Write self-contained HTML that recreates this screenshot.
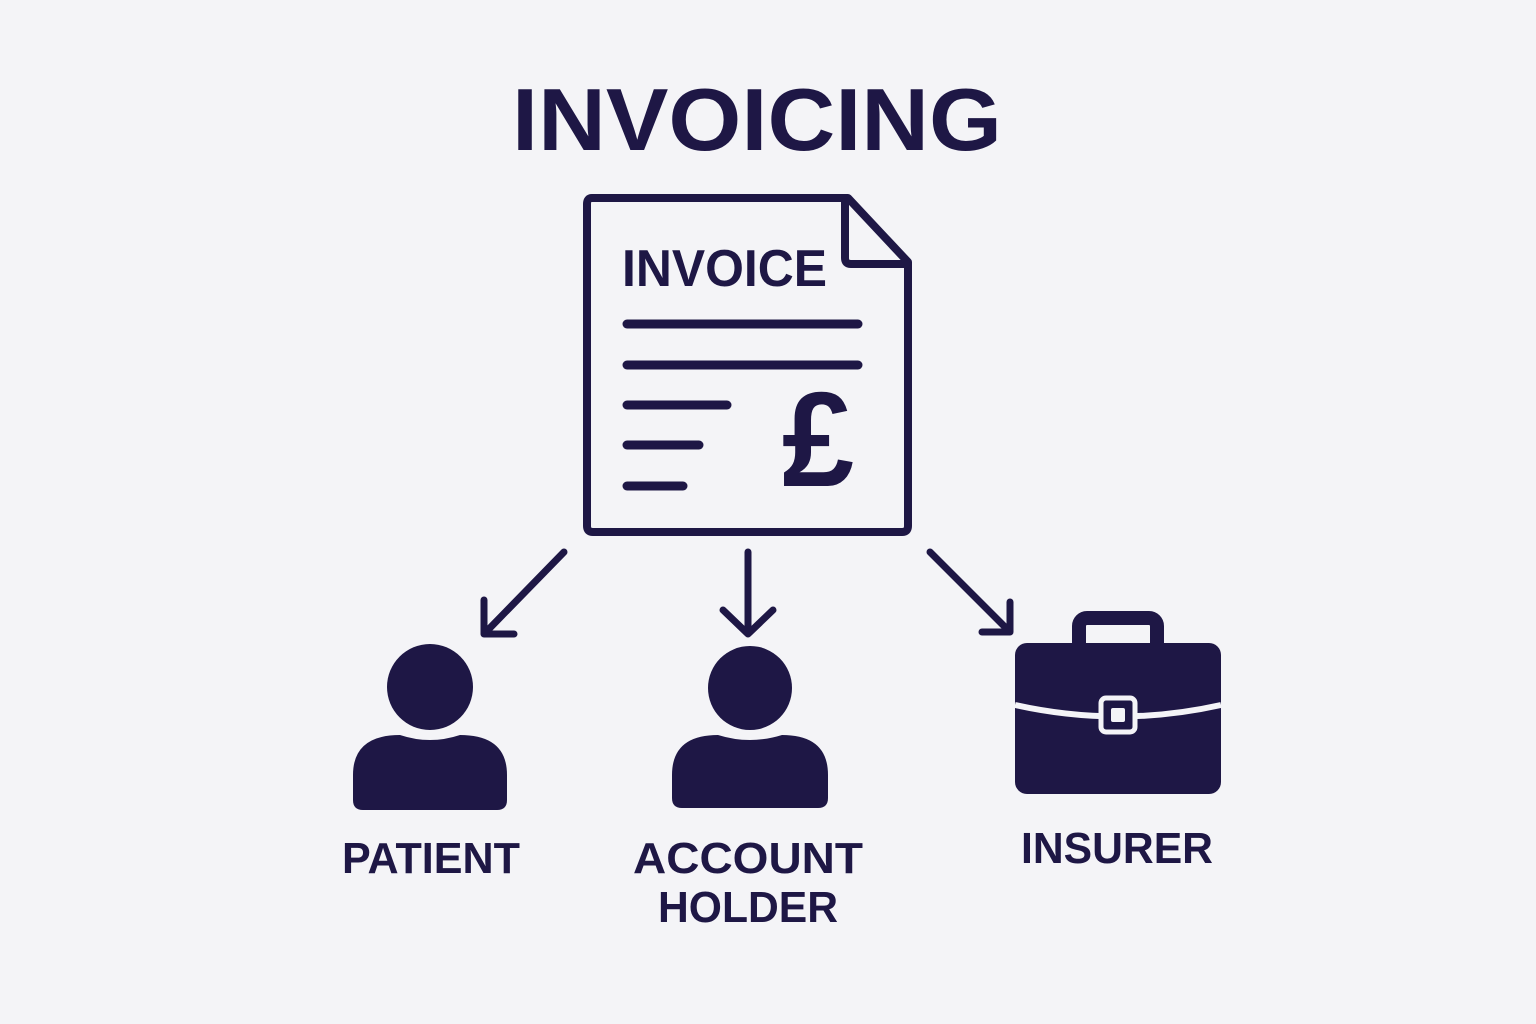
<!DOCTYPE html>
<html><head><meta charset="utf-8"><style>
html,body{margin:0;padding:0;background:#f4f4f7;}
svg{display:block;}
</style></head><body>
<svg width="1536" height="1024" viewBox="0 0 1536 1024" xmlns="http://www.w3.org/2000/svg">
<rect width="1536" height="1024" fill="#f4f4f7"/>
<g fill="#1e1745" font-family="Liberation Sans, sans-serif" font-weight="bold">
<text x="512" y="150" font-size="88" textLength="490" lengthAdjust="spacingAndGlyphs">INVOICING</text>
<text x="622" y="286" font-size="52" textLength="205" lengthAdjust="spacingAndGlyphs">INVOICE</text>
<text x="782" y="486" font-size="135" textLength="72" lengthAdjust="spacingAndGlyphs">£</text>
<text x="431" y="873" font-size="44" text-anchor="middle" textLength="178" lengthAdjust="spacingAndGlyphs">PATIENT</text>
<text x="748" y="873" font-size="44" text-anchor="middle" textLength="230" lengthAdjust="spacingAndGlyphs">ACCOUNT</text>
<text x="748" y="922" font-size="44" text-anchor="middle" textLength="180" lengthAdjust="spacingAndGlyphs">HOLDER</text>
<text x="1117" y="863" font-size="44" text-anchor="middle" textLength="192" lengthAdjust="spacingAndGlyphs">INSURER</text>
</g>
<g fill="none" stroke="#1e1745" stroke-linecap="round" stroke-linejoin="round">
<path d="M592,198 H848 L908,262 V526 Q908,532 902,532 H593 Q587,532 587,526 V204 Q587,198 592,198 Z" stroke-width="8"/>
<path d="M845,202 V258 Q845,264 851,264 H906" stroke-width="8"/>
<g stroke-width="9">
<line x1="627" y1="324" x2="858" y2="324"/>
<line x1="627" y1="365" x2="858" y2="365"/>
<line x1="627" y1="405" x2="727" y2="405"/>
<line x1="627" y1="445" x2="699" y2="445"/>
<line x1="627" y1="486" x2="683" y2="486"/>
</g>
<g stroke-width="7">
<line x1="564" y1="552" x2="486" y2="632"/><path d="M484,600 V634 H514"/>
<line x1="748" y1="552" x2="748" y2="632"/><path d="M723,610 L748,634 L773,610"/>
<line x1="930" y1="552" x2="1008" y2="630"/><path d="M1010,602 V632 H982"/>
</g>
<rect x="1079" y="618" width="78" height="40" rx="8" stroke-width="14"/>
</g>
<g fill="#1e1745">
<circle cx="430" cy="687" r="43"/>
<path d="M353,800 V775 Q353,735 400,735 Q430,745 460,735 Q507,735 507,775 V800 Q507,810 497,810 H363 Q353,810 353,800 Z"/>
<circle cx="750" cy="688" r="42"/>
<path d="M672,798 V775 Q672,735 718,735 Q750,745 782,735 Q828,735 828,775 V798 Q828,808 818,808 H682 Q672,808 672,798 Z"/>
<rect x="1015" y="643" width="206" height="151" rx="12"/>
</g>
<path d="M1015,705 Q1118,728 1221,705" fill="none" stroke="#f4f4f7" stroke-width="6"/>
<rect x="1101" y="698" width="34" height="34" rx="5" fill="#1e1745" stroke="#f4f4f7" stroke-width="5"/>
<rect x="1111" y="708" width="14" height="14" rx="2" fill="#f4f4f7"/>
</svg>
</body></html>
